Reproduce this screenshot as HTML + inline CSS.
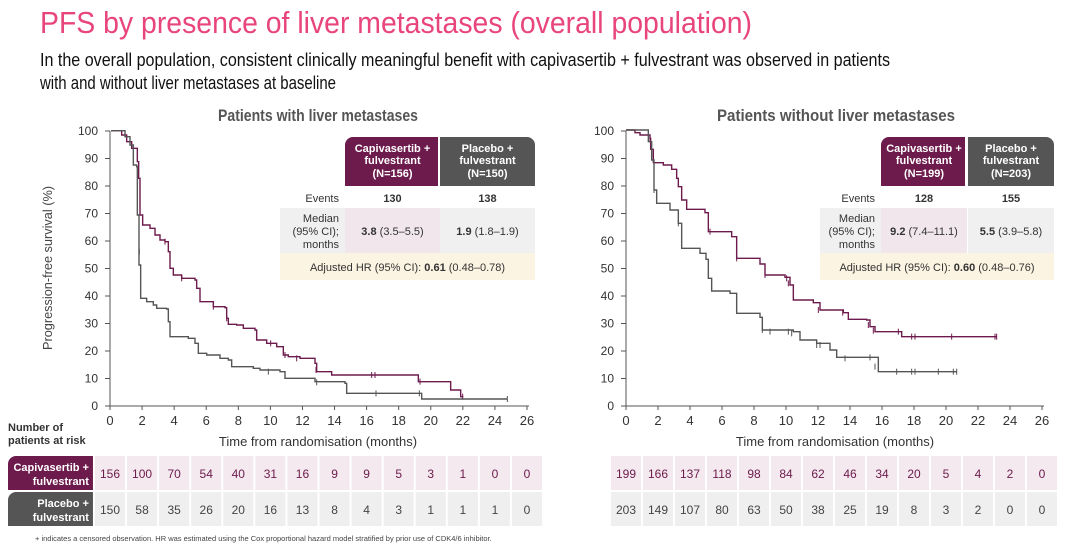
<!DOCTYPE html>
<html><head><meta charset="utf-8"><style>
html,body{margin:0;padding:0;background:#fff;}
svg{display:block;font-family:"Liberation Sans",Arial,sans-serif;}
</style></head><body>
<svg id="s" width="1080" height="547" viewBox="0 0 1080 547" xmlns="http://www.w3.org/2000/svg">
<text x="40" y="33" font-size="31" fill="#e8457c" textLength="712" lengthAdjust="spacingAndGlyphs">PFS by presence of liver metastases (overall population)</text>
<text x="40" y="66" font-size="18" fill="#111" textLength="850" lengthAdjust="spacingAndGlyphs">In the overall population, consistent clinically meaningful benefit with capivasertib + fulvestrant was observed in patients</text>
<text x="40" y="89" font-size="18" fill="#111" textLength="296" lengthAdjust="spacingAndGlyphs">with and without liver metastases at baseline</text>
<text x="318" y="121" font-size="17" font-weight="bold" fill="#555" text-anchor="middle" textLength="200" lengthAdjust="spacingAndGlyphs">Patients with liver metastases</text>
<text x="836" y="121" font-size="17" font-weight="bold" fill="#555" text-anchor="middle" textLength="238" lengthAdjust="spacingAndGlyphs">Patients without liver metastases</text>
<text transform="translate(52,268) rotate(-90)" font-size="13" fill="#444" text-anchor="middle" textLength="164" lengthAdjust="spacingAndGlyphs">Progression-free survival (%)</text>
<g id="g"></g>
<text x="8" y="431" font-size="11" font-weight="bold" fill="#333">Number of</text>
<text x="8" y="444" font-size="11" font-weight="bold" fill="#333">patients at risk</text>
<text x="318" y="446" font-size="13" fill="#333" text-anchor="middle">Time from randomisation (months)</text>
<text x="835" y="446" font-size="13" fill="#333" text-anchor="middle">Time from randomisation (months)</text>
<text x="35" y="541" font-size="7.5" fill="#444">+ indicates a censored observation. HR was estimated using the Cox proportional hazard model stratified by prior use of CDK4/6 inhibitor.</text>
</svg>
<script>
var NS="http://www.w3.org/2000/svg",g=document.getElementById("g"),h="";
function T(x,y,s,o){o=o||{};h+='<text x="'+x+'" y="'+y+'" font-size="'+(o.fs||12)+'" fill="'+(o.c||"#333")+'" text-anchor="'+(o.a||"middle")+'"'+(o.b?' font-weight="bold"':'')+'>'+s+'</text>';}
function R(x,y,w,hh,c,r){h+='<rect x="'+x+'" y="'+y+'" width="'+w+'" height="'+hh+'" fill="'+c+'"'+(r?' rx="'+r+'"':'')+'/>';}
function axes(x0,x26){var y0=406,y1=131;h+='<line x1="'+x0+'" y1="'+y1+'" x2="'+x0+'" y2="'+y0+'" stroke="#555"/>';h+='<line x1="'+x0+'" y1="'+y0+'" x2="'+(x26+2)+'" y2="'+y0+'" stroke="#555"/>';
for(var i=0;i<=10;i++){var y=y0-(y0-y1)*i/10;h+='<line x1="'+(x0-5)+'" y1="'+y+'" x2="'+x0+'" y2="'+y+'" stroke="#555"/>';T(x0-12,y+4,i*10,{a:"end",fs:12});}
for(var j=0;j<=13;j++){var x=x0+(x26-x0)*j/13;h+='<line x1="'+x+'" y1="'+y0+'" x2="'+x+'" y2="'+(y0+4)+'" stroke="#555"/>';T(x,y0+19,j*2,{fs:13});}}
axes(110,527);axes(626,1042);
function curve(pts,ox,oy,c,cens){var d="M"+(ox+pts[0][0]/3)+","+(oy+pts[0][1]/3);for(var i=1;i<pts.length;i++){d+="H"+(ox+pts[i][0]/3)+"V"+(oy+pts[i][1]/3);}h+='<path d="'+d+'" fill="none" stroke="'+c+'" stroke-width="1.4"/>';
(cens||[]).forEach(function(p){var x=ox+p[0]/3,y=oy+p[1]/3;h+='<line x1="'+x+'" y1="'+(y-3)+'" x2="'+x+'" y2="'+(y+3)+'" stroke="'+c+'"/>';});}
var P="#6d1a4c",G="#555";
curve([[33,17],[65,17],[65,30],[80,30],[80,50],[95,50],[95,70],[110,70],[112,110],[116,160],[120,270],[128,300],[150,310],[165,330],[180,345],[195,350],[205,380],[210,430],[220,450],[245,460],[285,465],[290,490],[300,530],[340,545],[375,548],[380,580],[385,598],[410,600],[430,610],[465,615],[470,645],[500,655],[530,665],[550,690],[565,695],[600,700],[645,715],[650,740],[690,740],[695,750],[950,750],[955,770],[1050,770],[1052,795],[1080,795],[1082,815],[1090,815]],100,125,P,[[195,350],[245,460],[340,545],[380,580],[512,655],[555,690],[590,700],[648,735],[815,750],[825,750],[960,770],[1088,815]]);
curve([[33,17],[70,17],[75,35],[90,60],[100,120],[110,125],[112,270],[117,420],[122,520],[140,530],[160,540],[170,550],[200,552],[205,590],[210,635],[265,640],[285,655],[295,685],[320,690],[360,700],[385,705],[395,725],[460,730],[480,735],[540,740],[555,760],[640,760],[645,770],[735,775],[740,805],[955,805],[965,822],[1222,822]],100,125,G,[[118,380],[505,740],[650,772],[828,805],[958,805],[1222,822]]);
curve([[78,30],[100,30],[105,38],[120,45],[150,55],[152,88],[160,128],[190,135],[215,148],[230,175],[235,200],[245,240],[260,268],[315,278],[325,335],[395,350],[410,415],[480,432],[495,465],[555,472],[570,495],[580,540],[640,548],[660,570],[730,578],[745,598],[800,600],[810,620],[825,635],[900,635],[905,650],[1190,650]],600,120,P,[[150,55],[330,335],[410,415],[495,465],[560,475],[565,490],[655,570],[728,578],[805,615],[820,632],[895,635],[935,650],[945,650],[1055,650],[1185,650],[1190,650]]);
curve([[78,30],[100,30],[145,65],[155,120],[162,210],[170,250],[210,270],[235,310],[245,385],[300,400],[318,418],[325,475],[335,513],[390,520],[410,580],[480,592],[487,630],[580,635],[600,660],[650,670],[690,690],[710,712],[820,712],[835,755],[1070,755]],600,120,G,[[162,210],[235,310],[487,630],[510,635],[565,635],[575,640],[650,675],[660,675],[735,715],[810,712],[825,740],[890,755],[935,755],[945,755],[1015,755],[1060,755],[1070,755]]);
// legend tables
function leg(x,px,gx,w,n1,n2,ev1,ev2,m1,m2,hr){var cw=w;
h+='<path d="M'+px+',186V145a8,8 0 0 1 8,-8H'+(px+cw-2)+'V186Z" fill="'+P+'"/>';
h+='<path d="M'+gx+',186V137H'+(gx+cw-8)+'a8,8 0 0 1 8,8V186Z" fill="#555"/>';
[["Capivasertib +",152],["fulvestrant",164],["(N="+n1+")",177]].forEach(function(t){T(px+cw/2,t[1],t[0],{c:"#fff",fs:11,b:1});});
[["Placebo +",152],["fulvestrant",164],["(N="+n2+")",177]].forEach(function(t){T(gx+cw/2,t[1],t[0],{c:"#fff",fs:11,b:1});});
T(px-6,202,"Events",{a:"end",fs:11});T(px+cw/2,202,ev1,{fs:11,b:1});T(gx+cw/2,202,ev2,{fs:11,b:1});
R(x,208,px-x,45,"#f0f0f0");R(px,208,cw,45,"#f1e6ec");R(gx,208,cw,45,"#f0f0f0");
T(px-6,222,"Median",{a:"end",fs:11});T(px-6,235,"(95% CI);",{a:"end",fs:11});T(px-6,248,"months",{a:"end",fs:11});
h+='<text x="'+(px+cw/2)+'" y="235" font-size="11" fill="#333" text-anchor="middle"><tspan font-weight="bold">'+m1[0]+'</tspan> '+m1[1]+'</text>';
h+='<text x="'+(gx+cw/2)+'" y="235" font-size="11" fill="#333" text-anchor="middle"><tspan font-weight="bold">'+m2[0]+'</tspan> '+m2[1]+'</text>';
R(x,253,gx+cw-x,27,"#fcf4e3");
h+='<text x="'+((x+gx+cw)/2)+'" y="271" font-size="11" fill="#333" text-anchor="middle">Adjusted HR (95% CI): <tspan font-weight="bold">'+hr[0]+'</tspan> '+hr[1]+'</text>';}
leg(280,345,440,95,156,150,130,138,["3.8","(3.5–5.5)"],["1.9","(1.8–1.9)"],["0.61","(0.48–0.78)"]);
leg(820,881,968,86,199,203,128,155,["9.2","(7.4–11.1)"],["5.5","(3.9–5.8)"],["0.60","(0.48–0.76)"]);
// risk tables
function risk(x0,x26,a,b,lab){var step=(x26-x0)/13,L=x0-step/2,Rr=x0+13*step+step/2;
for(var j=0;j<14;j++){var cx=x0+j*step;R(cx-step/2+1,456,step-2,34,"#f3e9ee");R(cx-step/2+1,492,step-2,34,"#efefef");T(cx,478,a[j],{c:P,fs:12});T(cx,514,b[j],{c:"#444",fs:12});}
if(lab){h+='<path d="M'+(L-1)+',456H16a8,8 0 0 0 -8,8V490H'+(L-1)+'Z" fill="'+P+'"/>';h+='<path d="M'+(L-1)+',492H16a8,8 0 0 0 -8,8V526H'+(L-1)+'Z" fill="#555"/>';
T(L-5,471,"Capivasertib +",{c:"#fff",fs:11,b:1,a:"end"});T(L-5,485,"fulvestrant",{c:"#fff",fs:11,b:1,a:"end"});T(L-5,507,"Placebo +",{c:"#fff",fs:11,b:1,a:"end"});T(L-5,521,"fulvestrant",{c:"#fff",fs:11,b:1,a:"end"});}}
risk(110,527,[156,100,70,54,40,31,16,9,9,5,3,1,0,0],[150,58,35,26,20,16,13,8,4,3,1,1,1,0],1);
risk(626,1042,[199,166,137,118,98,84,62,46,34,20,5,4,2,0],[203,149,107,80,63,50,38,25,19,8,3,2,0,0],0);
g.innerHTML=h;
</script>
</body></html>
